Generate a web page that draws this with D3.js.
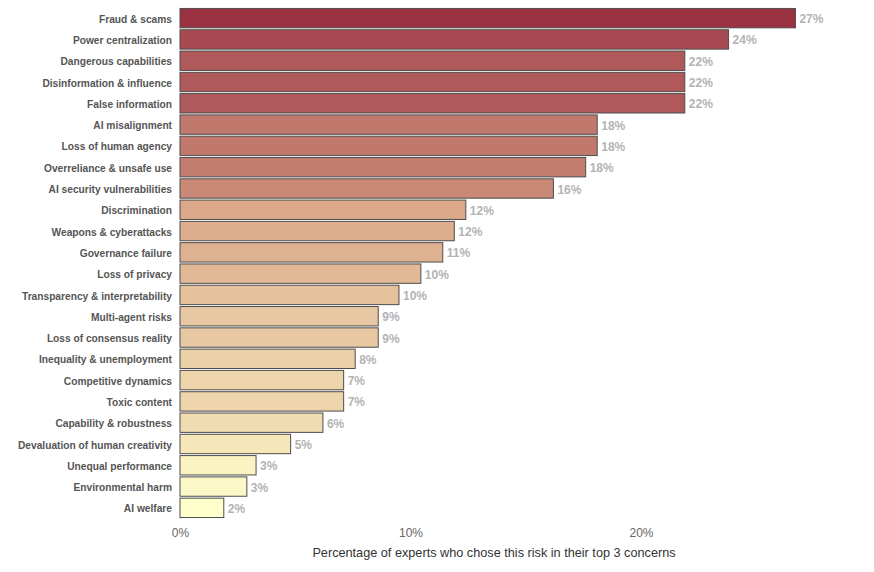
<!DOCTYPE html>
<html>
<head>
<meta charset="utf-8">
<script src="https://cdn.jsdelivr.net/npm/d3@7"></script>
<style>
  body { margin: 0; background: #fff; }
  svg { font-family: "Liberation Sans", Arial, sans-serif; }
</style>
</head>
<body>
<div class="canvas"></div>
<script>
// risk categories, top to bottom
const risks = [
  "Fraud & scams",
  "Power centralization",
  "Dangerous capabilities",
  "Disinformation & influence",
  "False information",
  "AI misalignment",
  "Loss of human agency",
  "Overreliance & unsafe use",
  "AI security vulnerabilities",
  "Discrimination",
  "Weapons & cyberattacks",
  "Governance failure",
  "Loss of privacy",
  "Transparency & interpretability",
  "Multi-agent risks",
  "Loss of consensus reality",
  "Inequality & unemployment",
  "Competitive dynamics",
  "Toxic content",
  "Capability & robustness",
  "Devaluation of human creativity",
  "Unequal performance",
  "Environmental harm",
  "AI welfare",
];

// percent of experts
const shares = [
  26.7, 23.8, 21.9, 21.9, 21.9, 18.1, 18.1, 17.6, 16.2, 12.4, 11.9, 11.4,
  10.45, 9.5, 8.6, 8.6, 7.6, 7.1, 7.1, 6.2, 4.8, 3.3, 2.9, 1.9,
];

const xTicks = [0, 10, 20];

const data = risks.map((r, i) => ({ risk: r, value: shares[i] }));

const width = 874;
const height = 572;
const margin = { top: 7.5, left: 180 };

const svg = d3
  .select(".canvas")
  .append("svg")
  .attr("width", width)
  .attr("height", height);

// scales
const x = d3.scaleLinear().domain([0, 20]).range([margin.left, 641]);

const y = d3
  .scaleBand()
  .domain(risks)
  .range([margin.top, 518.5])
  .paddingInner(0.09)
  .paddingOuter(0.045);

const color = d3
  .scaleLinear()
  .domain([d3.min(shares), 12.4, d3.max(shares)])
  .range(["#ffffcc", "#dba98a", "#9a3141"]);

// bars
svg
  .append("g")
  .selectAll("rect")
  .data(data)
  .enter()
  .append("rect")
  .attr("x", x(0))
  .attr("y", (d) => y(d.risk))
  .attr("width", (d) => x(d.value) - x(0))
  .attr("height", y.bandwidth())
  .attr("fill", (d) => color(d.value))
  .attr("stroke", "#4d4d4d")
  .attr("stroke-width", 1);

// value labels
svg
  .append("g")
  .selectAll("text")
  .data(data)
  .enter()
  .append("text")
  .attr("x", (d) => x(d.value) + 4)
  .attr("y", (d) => y(d.risk) + y.bandwidth() / 2)
  .attr("dy", "0.42em")
  .attr("fill", "#b3b3b3")
  .attr("font-size", 12)
  .attr("font-weight", "bold")
  .text((d) => `${Math.round(d.value)}%`);

// category axis
const yAxis = d3.axisLeft(y).tickSize(0).tickPadding(8);
const yAxisGroup = svg
  .append("g")
  .attr("transform", `translate(${margin.left},0)`)
  .call(yAxis);
yAxisGroup.select(".domain").remove();
yAxisGroup
  .selectAll("text")
  .attr("fill", "#555")
  .attr("font-size", 10.2)
  .attr("font-weight", "bold")
  .attr("dy", "0.45em")
  .style("font-family", "'Liberation Sans', Arial, sans-serif");

// x axis
const xAxis = d3
  .axisBottom(x)
  .tickValues(xTicks)
  .tickSize(0)
  .tickPadding(9)
  .tickFormat((d) => `${d}%`);
const xAxisGroup = svg
  .append("g")
  .attr("transform", "translate(0,519)")
  .call(xAxis);
xAxisGroup.select(".domain").remove();
xAxisGroup
  .selectAll("text")
  .attr("fill", "#666")
  .attr("font-size", 12)
  .style("font-family", "'Liberation Sans', Arial, sans-serif");

// axis title
svg
  .append("text")
  .attr("x", 494)
  .attr("y", 557)
  .attr("text-anchor", "middle")
  .attr("fill", "#333")
  .attr("font-size", 12.7)
  .text("Percentage of experts who chose this risk in their top 3 concerns");
</script>
</body>
</html>
